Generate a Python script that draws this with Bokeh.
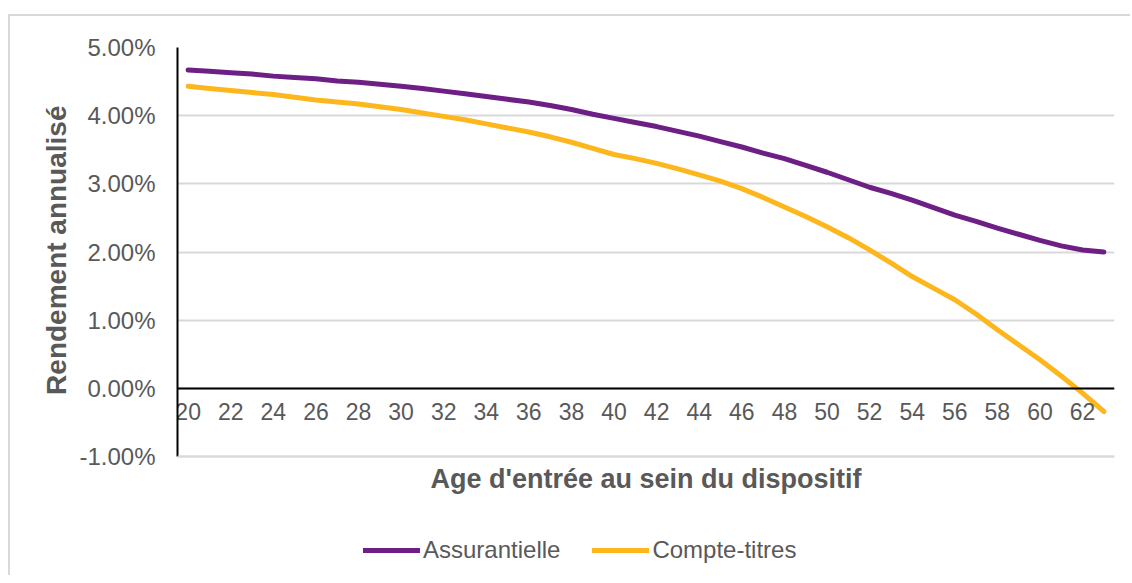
from bokeh.plotting import figure
from bokeh.models import (ColumnDataSource, LinearAxis, FixedTicker, PrintfTickFormatter,
                          Range1d, Legend, LegendItem, Title, Span)
from bokeh.embed import file_html
from bokeh.resources import INLINE

ages = list(range(20, 64))
assurantielle = [4.67, 4.65, 4.63, 4.61, 4.58, 4.56, 4.54, 4.51, 4.49, 4.46,
                 4.43, 4.40, 4.36, 4.32, 4.28, 4.24, 4.20, 4.15, 4.09, 4.02,
                 3.96, 3.90, 3.84, 3.77, 3.70, 3.62, 3.54, 3.45, 3.37, 3.27,
                 3.17, 3.06, 2.95, 2.86, 2.76, 2.65, 2.54, 2.45, 2.35, 2.26,
                 2.17, 2.09, 2.03, 2.00]
compte_titres = [4.43, 4.40, 4.37, 4.34, 4.31, 4.27, 4.23, 4.20, 4.17, 4.13,
                 4.09, 4.04, 3.99, 3.94, 3.88, 3.82, 3.76, 3.69, 3.61, 3.52,
                 3.43, 3.37, 3.30, 3.22, 3.13, 3.04, 2.93, 2.80, 2.66, 2.52,
                 2.37, 2.21, 2.03, 1.84, 1.64, 1.47, 1.30, 1.09, 0.86, 0.64,
                 0.42, 0.18, -0.07, -0.34]
series_names = ["Assurantielle", "Compte-titres"]
x_ticks = list(range(20, 63, 2))
y_ticks = [-1, 0, 1, 2, 3, 4, 5]

FONT = "Liberation Sans"
GREY = "#595959"
PURPLE = "#6E1F85"
YELLOW = "#FDB71C"

# layout (pixels): plotting band for -1..5 is 409 px tall, with extra room
# below it (inside the frame) for the axis title and the legend
BAND_H = 409
EXTRA_H = 119
y_lo, y_hi = y_ticks[0], y_ticks[-1]
y_start = y_lo - EXTRA_H * (y_hi - y_lo) / BAND_H

src = ColumnDataSource(dict(age=ages, a=assurantielle, c=compte_titres))

p = figure(frame_width=937, frame_height=BAND_H + EXTRA_H, output_backend="svg",
           toolbar_location=None,
           x_range=Range1d(19.5, 63.5), y_range=Range1d(y_start, y_hi),
           min_border_left=167, min_border_right=16, min_border_top=31,
           min_border_bottom=0, x_axis_location=None, y_axis_location=None)
p.styles = {"margin-left": "8px", "margin-top": "14px",
            "border-left": "2px solid #d9d9d9", "border-top": "2px solid #d9d9d9"}
p.outline_line_color = None
p.background_fill_color = "white"

# y axis
yaxis = LinearAxis(ticker=FixedTicker(ticks=y_ticks),
                   formatter=PrintfTickFormatter(format="%.2f%%"),
                   bounds=(y_lo, y_hi))
yaxis.axis_line_color = "black"
yaxis.axis_line_width = 2
yaxis.major_tick_line_color = None
yaxis.minor_tick_line_color = None
yaxis.major_label_standoff = 16
yaxis.major_label_text_font = FONT
yaxis.major_label_text_font_size = "24px"
yaxis.major_label_text_color = GREY
p.add_layout(yaxis, "left")

# y axis title (vertical, centred on the -1..5 band)
ytitle = Title(text="Rendement annualisé", align="right", offset=58,
               text_font=FONT, text_font_size="28px", text_font_style="bold",
               text_color=GREY)
p.add_layout(ytitle, "left")

# grid
p.ygrid.ticker = FixedTicker(ticks=y_ticks)
p.ygrid.grid_line_color = "#d9d9d9"
p.ygrid.grid_line_width = 2
p.xgrid.grid_line_color = None
p.add_layout(Span(location=y_lo, dimension="width", line_color="#d9d9d9", line_width=2))

r1 = p.line("age", "a", source=src, line_color=PURPLE, line_width=5, line_cap="round", line_join="round")
r2 = p.line("age", "c", source=src, line_color=YELLOW, line_width=5, line_cap="round", line_join="round")

legend = Legend(items=[LegendItem(label=series_names[0], renderers=[r1]),
                       LegendItem(label=series_names[1], renderers=[r2])],
                orientation="horizontal", location=(186, 11))
legend.label_text_font = FONT
legend.label_text_font_size = "24px"
legend.label_text_color = GREY
legend.glyph_width = 57
legend.glyph_height = 24
legend.label_standoff = 3
legend.spacing = 32
legend.padding = 0
legend.margin = 0
legend.border_line_color = None
legend.background_fill_alpha = 0
p.add_layout(legend)

# x axis through zero, carrying the axis title
xaxis0 = LinearAxis(ticker=FixedTicker(ticks=x_ticks), fixed_location=0)
xaxis0.axis_line_color = "black"
xaxis0.axis_line_width = 2
xaxis0.major_tick_line_color = None
xaxis0.minor_tick_line_color = None
xaxis0.major_label_standoff = 9
xaxis0.major_label_text_font = FONT
xaxis0.major_label_text_font_size = "23px"
xaxis0.major_label_text_color = GREY
xaxis0.axis_label = "Age d'entrée au sein du dispositif"
xaxis0.axis_label_text_font = FONT
xaxis0.axis_label_text_font_size = "27px"
xaxis0.axis_label_text_font_style = "bold"
xaxis0.axis_label_text_color = GREY
xaxis0.axis_label_standoff = 40
p.add_layout(xaxis0, "below")

open("out.html", "w").write(file_html(p, INLINE))
